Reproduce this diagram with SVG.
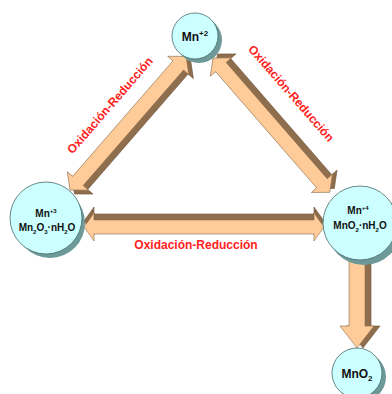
<svg xmlns="http://www.w3.org/2000/svg" width="392" height="394" viewBox="0 0 392 394">
<defs>
<style>
.face{fill:#FFCC99;stroke:#8A6A4A;stroke-width:0.6}
.side{fill:#8F6E4E;stroke:#6E5236;stroke-width:0.6}
.ball{fill:#CCFFFF;stroke:#4A6A6A;stroke-width:0.8}
.shadow{fill:#6E9999}
.t{font-family:"Liberation Sans",Arial,sans-serif;font-weight:bold;fill:#111;text-anchor:middle}
.lbl{font-family:"Liberation Sans",Arial,sans-serif;font-weight:bold;fill:#FF2020;font-size:12px;text-anchor:middle}
</style>
</defs>
<rect width="392" height="394" fill="#FFFFFF"/>
<g id="connectors">
  <g id="arrow-left" transform="translate(70,190) rotate(-49)">
    <polygon class="side" transform="translate(0,6)" points="0,0 12,-14 12,-7 165,-7 165,-14 177,0 165,14 165,7 12,7 12,14"/>
    <polygon class="face" points="0,0 12,-14 12,-7 165,-7 165,-14 177,0 165,14 165,7 12,7 12,14"/>
  </g>
  <g id="arrow-right" transform="translate(213,58) rotate(49)">
    <polygon class="side" transform="translate(0,-6)" points="0,0 12,-14 12,-7 166,-7 166,-14 178,0 166,14 166,7 12,7 12,14"/>
    <polygon class="face" points="0,0 12,-14 12,-7 166,-7 166,-14 178,0 166,14 166,7 12,7 12,14"/>
  </g>
  <g id="arrow-bottom" transform="translate(84,227)">
    <polygon class="side" transform="translate(0,-6)" points="0,0 10,-14 10,-7 230,-7 230,-14 240,0 230,14 230,7 10,7 10,14"/>
    <polygon class="face" points="0,0 10,-14 10,-7 230,-7 230,-14 240,0 230,14 230,7 10,7 10,14"/>
  </g>
  <g id="arrow-down" transform="translate(357,248) rotate(90)">
    <polygon class="side" transform="translate(0,-6)" points="0,-8 78,-8 78,-17 100,0 78,17 78,8 0,8"/>
    <polygon class="face" points="0,-8 78,-8 78,-17 100,0 78,17 78,8 0,8"/>
  </g>
  <text class="lbl" transform="translate(113,108) rotate(-49)">Oxidación-Reducción</text>
  <text class="lbl" transform="translate(288,96) rotate(49)">Oxidación-Reducción</text>
  <text class="lbl" x="196" y="249">Oxidación-Reducción</text>
</g>
<g id="node-mn2">
  <circle class="shadow" cx="199" cy="40" r="23"/>
  <circle class="ball" cx="195" cy="36" r="23"/>
  <text class="t" x="195" y="41" font-size="12">Mn<tspan font-size="8" dy="-5">+2</tspan></text>
</g>
<g id="node-mn3">
  <circle class="shadow" cx="50" cy="223" r="35"/>
  <circle class="ball" cx="46" cy="218" r="36"/>
  <text class="t" x="46" y="217" font-size="10">Mn<tspan font-size="6" dy="-4">+3</tspan></text>
  <text class="t" x="47" y="231" font-size="10">Mn<tspan font-size="6" dy="3">2</tspan><tspan dy="-3">O</tspan><tspan font-size="6" dy="3">3</tspan><tspan dy="-3">·nH</tspan><tspan font-size="6" dy="3">2</tspan><tspan dy="-3">O</tspan></text>
</g>
<g id="node-mn4">
  <circle class="shadow" cx="364" cy="228" r="37"/>
  <circle class="ball" cx="360" cy="223" r="37"/>
  <text class="t" x="358" y="214" font-size="10">Mn<tspan font-size="6" dy="-4">+4</tspan></text>
  <text class="t" x="360" y="229" font-size="10">MnO<tspan font-size="6" dy="3">2</tspan><tspan dy="-3">·nH</tspan><tspan font-size="6" dy="3">2</tspan><tspan dy="-3">O</tspan></text>
</g>
<g id="node-mno2">
  <circle class="shadow" cx="361" cy="377" r="25"/>
  <circle class="ball" cx="357" cy="373" r="25"/>
  <text class="t" x="357" y="378" font-size="12">MnO<tspan font-size="8" dy="3">2</tspan></text>
</g>
</svg>
